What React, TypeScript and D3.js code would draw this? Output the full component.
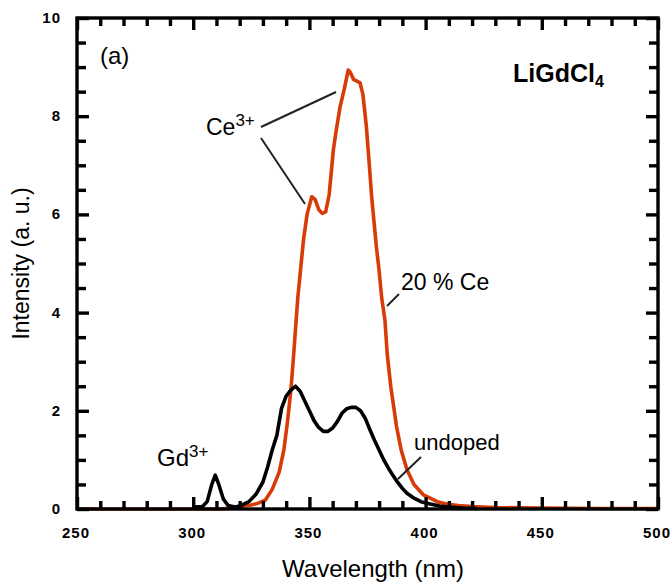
import React, { useEffect, useRef } from "react";
import * as d3 from "d3";

const xTicks = [250, 300, 350, 400, 450, 500];
const yTicks = [0, 2, 4, 6, 8, 10];
const xMinorTicks = [260, 270, 280, 290, 310, 320, 330, 340, 360, 370, 380, 390, 410, 420, 430, 440, 460, 470, 480, 490];
const yMinorTicks = [0.5, 1, 1.5, 2.5, 3, 3.5, 4.5, 5, 5.5, 6.5, 7, 7.5, 8.5, 9, 9.5];

const undopedWl = [300, 304, 306, 308, 309.5, 311, 313, 315, 318, 320, 324, 327, 330, 332, 334, 336, 338, 340, 342, 344, 346, 348, 350, 352, 354, 356, 358, 360, 362, 364, 366, 368, 370, 372, 374, 376, 378, 380, 382, 384, 386, 388, 390, 392, 395, 398, 402, 406, 410, 416, 422];
const undopedI = [0.04, 0.05, 0.15, 0.5, 0.69, 0.5, 0.2, 0.07, 0.04, 0.06, 0.15, 0.3, 0.55, 0.85, 1.2, 1.5, 2.05, 2.3, 2.42, 2.5, 2.4, 2.2, 2.0, 1.8, 1.66, 1.58, 1.58, 1.65, 1.78, 1.95, 2.04, 2.07, 2.07, 2.0, 1.85, 1.62, 1.4, 1.2, 1.0, 0.83, 0.68, 0.54, 0.42, 0.32, 0.22, 0.15, 0.1, 0.06, 0.04, 0.02, 0.01];

const ceWl = [250, 300, 312, 316, 320, 325, 328, 331, 334, 337, 339, 340.5, 342, 343, 345, 347.5, 349, 351, 352.5, 354, 355.5, 357, 358.5, 360.3, 361.5, 363.2, 365, 366.7, 367.5, 369, 371.8, 373, 374.5, 375.8, 376.8, 377.8, 378.8, 380, 381.1, 382.5, 383.5, 385, 387.5, 389.5, 392, 395, 399, 402, 405, 409, 414, 420, 430, 450, 475, 500];
const ceI = [0, 0, 0, 0.02, 0.05, 0.08, 0.12, 0.18, 0.4, 0.75, 1.2, 1.75, 2.4, 3.0, 4.3, 5.5, 6.0, 6.36, 6.3, 6.1, 6.02, 6.05, 6.4, 7.31, 7.7, 8.19, 8.55, 8.94, 8.9, 8.75, 8.68, 8.45, 7.8, 7.0, 6.35, 5.85, 5.35, 4.85, 4.3, 3.85, 3.15, 2.5, 1.68, 1.2, 0.8, 0.5, 0.29, 0.22, 0.15, 0.1, 0.07, 0.05, 0.03, 0.02, 0.01, 0.01];

const W = 671, H = 582;
const L = 77, R = 658, T = 18, B = 509;
const font = "Arial, 'Liberation Sans', sans-serif";

export default function App() {
  const ref = useRef<SVGGElement>(null);
  const x = d3.scaleLinear().domain([250, 500]).range([L, R]);
  const y = d3.scaleLinear().domain([0, 10]).range([B, T]);
  const line = d3.line<[number, number]>().x(d => x(d[0])).y(d => y(d[1]));
  const ce = ceWl.map((w, i) => [w, ceI[i]] as [number, number]);
  const un = undopedWl.map((w, i) => [w, undopedI[i]] as [number, number]);

  useEffect(() => {
    const g = d3.select(ref.current);
    g.selectAll("*").remove();
    const add = (axis: any, tx: number, ty: number) => {
      const sel = g.append("g").attr("transform", `translate(${tx},${ty})`).call(axis);
      sel.select(".domain").remove();
      sel.selectAll(".tick line").attr("stroke", "#000").attr("stroke-width", 3.4);
      sel.selectAll(".tick text").remove();
    };
    add(d3.axisBottom(x).tickValues(xTicks).tickSize(-12).tickFormat(() => ""), 0, B);
    add(d3.axisBottom(x).tickValues(xMinorTicks).tickSize(-8).tickFormat(() => ""), 0, B);
    add(d3.axisTop(x).tickValues(xTicks).tickSize(-12).tickFormat(() => ""), 0, T);
    add(d3.axisTop(x).tickValues(xMinorTicks).tickSize(-8).tickFormat(() => ""), 0, T);
    add(d3.axisLeft(y).tickValues(yTicks).tickSize(-12).tickFormat(() => ""), L, 0);
    add(d3.axisLeft(y).tickValues(yMinorTicks).tickSize(-9).tickFormat(() => ""), L, 0);
    add(d3.axisRight(y).tickValues(yTicks).tickSize(-12).tickFormat(() => ""), R, 0);
    add(d3.axisRight(y).tickValues(yMinorTicks).tickSize(-9).tickFormat(() => ""), R, 0);
  }, []);

  return (
    <svg width={W} height={H} style={{ position: "absolute", left: 0, top: 0, background: "#fff" }} fontFamily={font}>
      <path d={line(ce) || ""} fill="none" stroke="#d73c08" strokeWidth={3.6} strokeLinejoin="round" />
      <path d={line(un) || ""} fill="none" stroke="#000" strokeWidth={3.6} strokeLinejoin="round" />
      <rect x={L} y={T} width={R - L} height={B - T} fill="none" stroke="#000" strokeWidth={3.4} />
      <g ref={ref} />
      {xTicks.map(v => (
        <text key={"xl" + v} x={x(v) - 1} y={538} textAnchor="middle" fontSize={15} fontWeight="bold" letterSpacing={1}>{v}</text>
      ))}
      {yTicks.map(v => (
        <text key={"yl" + v} x={61} y={y(v) + 5} textAnchor="end" fontSize={15} fontWeight="bold" letterSpacing={1}>{v}</text>
      ))}
      <text x={373} y={577} textAnchor="middle" fontSize={24}>Wavelength (nm)</text>
      <text transform={`translate(29,${(T + B) / 2}) rotate(-90)`} textAnchor="middle" fontSize={23}>Intensity (a. u.)</text>
      <text x={100} y={64} fontSize={24}>(a)</text>
      <text x={513} y={82} fontSize={25} fontWeight="bold">LiGdCl<tspan dy={5} fontSize={16}>4</tspan></text>
      <text x={206} y={135} fontSize={23}>Ce<tspan dy={-9} fontSize={17}>3+</tspan></text>
      <line x1={261} y1={127} x2={336} y2={92} stroke="#222" strokeWidth={2} />
      <line x1={261} y1={138} x2={305} y2={204} stroke="#222" strokeWidth={2} />
      <text x={401} y={290} fontSize={23}>20 % Ce</text>
      <line x1={387} y1={306} x2={399} y2={294} stroke="#222" strokeWidth={2} />
      <text x={414} y={450} fontSize={22}>undoped</text>
      <line x1={398} y1={479} x2={421} y2={457} stroke="#222" strokeWidth={2} />
      <text x={157} y={466} fontSize={24}>Gd<tspan dy={-9} fontSize={17}>3+</tspan></text>
    </svg>
  );
}
